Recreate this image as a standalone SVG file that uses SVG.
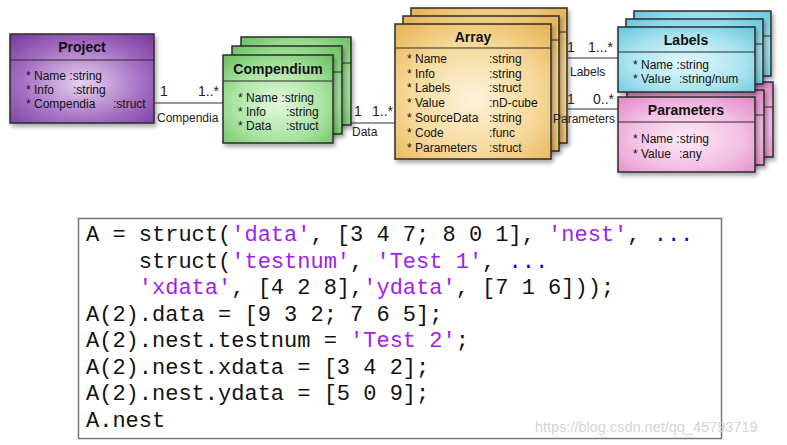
<svg xmlns="http://www.w3.org/2000/svg" width="787" height="445" viewBox="0 0 787 445">
<defs>
<radialGradient id="gP" cx="0.5" cy="0.55" r="0.7"><stop offset="0" stop-color="#e6d3ef"/><stop offset="0.6" stop-color="#a56fc3"/><stop offset="1" stop-color="#7a3fa0"/></radialGradient>
<radialGradient id="gC" cx="0.5" cy="0.55" r="0.7"><stop offset="0" stop-color="#e4f8e0"/><stop offset="0.6" stop-color="#a9e3a0"/><stop offset="1" stop-color="#6fc466"/></radialGradient>
<radialGradient id="gA" cx="0.5" cy="0.55" r="0.7"><stop offset="0" stop-color="#fdf3dc"/><stop offset="0.6" stop-color="#f6d898"/><stop offset="1" stop-color="#e8b65a"/></radialGradient>
<radialGradient id="gL" cx="0.5" cy="0.55" r="0.7"><stop offset="0" stop-color="#e6f8fc"/><stop offset="0.6" stop-color="#a9e4f0"/><stop offset="1" stop-color="#6cc9df"/></radialGradient>
<radialGradient id="gR" cx="0.5" cy="0.55" r="0.7"><stop offset="0" stop-color="#fcecf7"/><stop offset="0.6" stop-color="#f3bde2"/><stop offset="1" stop-color="#e48ccb"/></radialGradient>
<filter id="sh" x="-10%" y="-10%" width="125%" height="130%"><feDropShadow dx="2" dy="3" stdDeviation="2" flood-color="#000" flood-opacity="0.35"/></filter>
</defs>
<style>
.box{stroke:#2b2b2b;stroke-width:1.5;filter:url(#sh)}
.div{stroke:#2b2b2b;stroke-width:1.2}
.t{font-family:"Liberation Sans",Arial,sans-serif;font-weight:bold;font-size:14px;fill:#111;text-anchor:middle}
.a{font-family:"Liberation Sans",Arial,sans-serif;font-size:12px;fill:#111}
.l{font-family:"Liberation Sans",Arial,sans-serif;font-size:12px;fill:#222}
.m{font-family:"Liberation Sans",Arial,sans-serif;font-size:14px;fill:#222}
.ln{stroke:#333;stroke-width:1.2;fill:none}
.code{font-family:"Liberation Mono","Courier New",monospace;font-size:22px;fill:#111;white-space:pre}
.s{fill:#a020f0}
.e{fill:#0000ff}
</style>
<g id="project">
<rect class="box" x="10" y="34" width="144" height="89" fill="url(#gP)"/>
<line class="div" x1="10" y1="60" x2="154" y2="60"/>
<text class="t" x="82" y="52">Project</text>
<text class="a" x="26" y="80">* Name :string</text>
<text class="a" x="26" y="94">* Info</text><text class="a" x="73" y="94">:string</text>
<text class="a" x="26" y="108">* Compendia</text><text class="a" x="113" y="108">:struct</text>
</g>
<g id="compendium">
<rect class="box" x="241" y="37" width="110" height="88" fill="url(#gC)"/>
<line class="div" x1="241" y1="63" x2="351" y2="63"/>
<rect class="box" x="232" y="46" width="110" height="88" fill="url(#gC)"/>
<line class="div" x1="232" y1="72" x2="342" y2="72"/>
<rect class="box" x="223" y="55" width="110" height="88" fill="url(#gC)"/>
<line class="div" x1="223" y1="81" x2="333" y2="81"/>
<text class="t" x="278" y="74">Compendium</text>
<text class="a" x="238" y="102">* Name :string</text>
<text class="a" x="238" y="116">* Info</text><text class="a" x="286" y="116">:string</text>
<text class="a" x="238" y="130">* Data</text><text class="a" x="286" y="130">:struct</text>
</g>
<g id="array">
<rect class="box" x="411" y="8" width="156" height="135" fill="url(#gA)"/>
<line class="div" x1="411" y1="32" x2="567" y2="32"/>
<rect class="box" x="403" y="16" width="156" height="135" fill="url(#gA)"/>
<line class="div" x1="403" y1="40" x2="559" y2="40"/>
<rect class="box" x="395" y="24" width="156" height="135" fill="url(#gA)"/>
<line class="div" x1="395" y1="48" x2="551" y2="48"/>
<text class="t" x="473" y="42">Array</text>
<text class="a" x="407" y="63">* Name</text><text class="a" x="489" y="63">:string</text>
<text class="a" x="407" y="78">* Info</text><text class="a" x="489" y="78">:string</text>
<text class="a" x="407" y="92">* Labels</text><text class="a" x="489" y="92">:struct</text>
<text class="a" x="407" y="107">* Value</text><text class="a" x="489" y="107">:nD-cube</text>
<text class="a" x="407" y="122">* SourceData</text><text class="a" x="489" y="122">:string</text>
<text class="a" x="407" y="137">* Code</text><text class="a" x="489" y="137">:func</text>
<text class="a" x="407" y="152">* Parameters</text><text class="a" x="489" y="152">:struct</text>
</g>
<g id="parameters">
<rect class="box" x="636" y="82" width="137" height="75" fill="url(#gR)"/>
<line class="div" x1="636" y1="107" x2="773" y2="107"/>
<rect class="box" x="627" y="90" width="137" height="75" fill="url(#gR)"/>
<line class="div" x1="627" y1="115" x2="764" y2="115"/>
</g>
<g id="labels">
<rect class="box" x="634" y="11" width="137" height="65" fill="url(#gL)"/>
<line class="div" x1="634" y1="36" x2="771" y2="36"/>
<rect class="box" x="626" y="19" width="137" height="65" fill="url(#gL)"/>
<line class="div" x1="626" y1="44" x2="763" y2="44"/>
<rect class="box" x="618" y="27" width="137" height="65" fill="url(#gL)"/>
<line class="div" x1="618" y1="52" x2="755" y2="52"/>
<text class="t" x="686" y="45">Labels</text>
<text class="a" x="633" y="69">* Name :string</text>
<text class="a" x="633" y="83">* Value</text><text class="a" x="679" y="83">:string/num</text>
</g>
<g id="parameters-front">
<rect class="box" x="618" y="97" width="137" height="75" fill="url(#gR)"/>
<line class="div" x1="618" y1="122" x2="755" y2="122"/>
<text class="t" x="686" y="115">Parameters</text>
<text class="a" x="633" y="143">* Name :string</text>
<text class="a" x="633" y="158">* Value</text><text class="a" x="679" y="158">:any</text>
</g>
<g id="connectors">
<line class="ln" x1="154" y1="103" x2="223" y2="103"/>
<line class="ln" x1="351" y1="123" x2="395" y2="123"/>
<line class="ln" x1="567" y1="58" x2="618" y2="58"/>
<line class="ln" x1="567" y1="109" x2="618" y2="109"/>
<text class="m" x="160" y="96">1</text>
<text class="m" x="198" y="96">1..*</text>
<text class="l" x="157" y="122">Compendia</text>
<text class="m" x="354" y="116">1</text>
<text class="m" x="372" y="116">1..*</text>
<text class="l" x="352" y="136">Data</text>
<text class="m" x="567" y="52">1</text>
<text class="m" x="588" y="52">1...*</text>
<text class="l" x="570" y="76">Labels</text>
<text class="m" x="567" y="104">1</text>
<text class="m" x="593" y="104">0..*</text>
<text class="l" x="553" y="123">Parameters</text>
</g>
<g id="code">
<rect x="78.5" y="218.5" width="643" height="220" fill="#fff" stroke="#777" stroke-width="1.5"/>
<text class="code" x="86" y="241" xml:space="preserve">A = struct(<tspan class="s">'data'</tspan>, [3 4 7; 8 0 1], <tspan class="s">'nest'</tspan>, <tspan class="e">...</tspan></text>
<text class="code" x="86" y="268" xml:space="preserve">    struct(<tspan class="s">'testnum'</tspan>, <tspan class="s">'Test 1'</tspan>, <tspan class="e">...</tspan></text>
<text class="code" x="86" y="294" xml:space="preserve">    <tspan class="s">'xdata'</tspan>, [4 2 8],<tspan class="s">'ydata'</tspan>, [7 1 6]));</text>
<text class="code" x="86" y="321" xml:space="preserve">A(2).data = [9 3 2; 7 6 5];</text>
<text class="code" x="86" y="347" xml:space="preserve">A(2).nest.testnum = <tspan class="s">'Test 2'</tspan>;</text>
<text class="code" x="86" y="374" xml:space="preserve">A(2).nest.xdata = [3 4 2];</text>
<text class="code" x="86" y="400" xml:space="preserve">A(2).nest.ydata = [5 0 9];</text>
<text class="code" x="86" y="427" xml:space="preserve">A.nest</text>
</g>
<text x="535" y="432" font-family="Liberation Sans, Arial, sans-serif" font-size="14.5" fill="#d4d4d4">https://blog.csdn.net/qq_45793719</text>
</svg>
